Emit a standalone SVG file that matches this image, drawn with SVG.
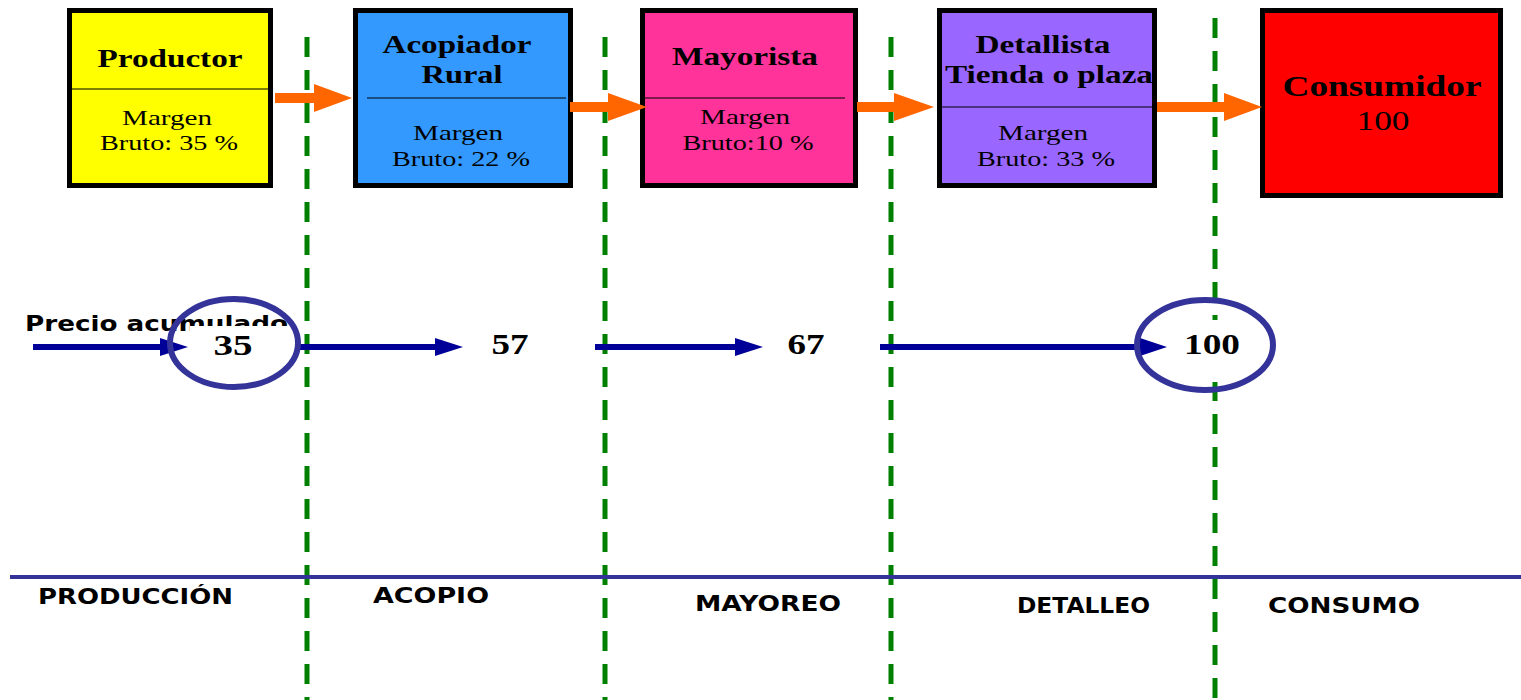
<svg xmlns="http://www.w3.org/2000/svg" width="1521" height="700" viewBox="0 0 1521 700">
  <style>
    .box { stroke: #000; stroke-width: 5; }
    .div { stroke: #000; stroke-width: 1.2; }
    .title { font-family: "Liberation Serif", "Times New Roman", serif; font-weight: bold; font-size: 25px; text-anchor: middle; fill: #000; }
    .body { font-family: "Liberation Serif", "Times New Roman", serif; font-size: 21px; text-anchor: middle; fill: #000; }
    .num { font-family: "Liberation Serif", "Times New Roman", serif; font-weight: bold; font-size: 29px; text-anchor: middle; fill: #000; }
    .stage { font-family: "DejaVu Sans", "Liberation Sans", sans-serif; font-weight: bold; font-size: 22px; fill: #000; }
    .sep { stroke: #008000; stroke-width: 5; stroke-dasharray: 20 13; fill: none; }
    .flow { stroke: #FF6600; stroke-width: 10; fill: none; }
    .price { stroke: #000099; stroke-width: 6; fill: none; }
    .ring { stroke: #333399; stroke-width: 6; fill: none; }
  </style>

  <!-- stage separators -->
  <g id="separators">
    <line class="sep" x1="307" y1="37" x2="307" y2="700"/>
    <line class="sep" x1="605" y1="37" x2="605" y2="700"/>
    <line class="sep" x1="891" y1="37" x2="891" y2="700"/>
    <line class="sep" x1="1215" y1="18" x2="1215" y2="700"/>
  </g>

  <!-- chain actors -->
  <g id="productor">
    <rect class="box" x="69.5" y="10.5" width="201" height="175" fill="#FFFF00"/>
    <line class="div" x1="72" y1="89" x2="268" y2="89"/>
    <text class="title" x="170" y="67" textLength="145" lengthAdjust="spacingAndGlyphs">Productor</text>
    <text class="body" x="167" y="125" textLength="90" lengthAdjust="spacingAndGlyphs">Margen</text>
    <text class="body" x="169" y="150" textLength="138" lengthAdjust="spacingAndGlyphs">Bruto: 35 %</text>
  </g>

  <g id="acopiador">
    <rect class="box" x="355.5" y="10.5" width="215" height="175" fill="#3399FF"/>
    <line class="div" x1="367" y1="98" x2="566" y2="98"/>
    <text class="title" x="457" y="53" textLength="149" lengthAdjust="spacingAndGlyphs">Acopiador</text>
    <text class="title" x="462" y="83" textLength="81" lengthAdjust="spacingAndGlyphs">Rural</text>
    <text class="body" x="458" y="140" textLength="90" lengthAdjust="spacingAndGlyphs">Margen</text>
    <text class="body" x="461" y="166" textLength="138" lengthAdjust="spacingAndGlyphs">Bruto: 22 %</text>
  </g>

  <g id="mayorista">
    <rect class="box" x="642.5" y="10.5" width="213" height="175" fill="#FF3399"/>
    <line class="div" x1="645" y1="98" x2="845" y2="98"/>
    <text class="title" x="745" y="65" textLength="146" lengthAdjust="spacingAndGlyphs">Mayorista</text>
    <text class="body" x="745" y="124" textLength="90" lengthAdjust="spacingAndGlyphs">Margen</text>
    <text class="body" x="748" y="150" textLength="131" lengthAdjust="spacingAndGlyphs">Bruto:10 %</text>
  </g>

  <g id="detallista">
    <rect class="box" x="939.5" y="10.5" width="215" height="175" fill="#9966FF"/>
    <line class="div" x1="942" y1="107" x2="1152" y2="107"/>
    <text class="title" x="1043" y="53" textLength="135" lengthAdjust="spacingAndGlyphs">Detallista</text>
    <text class="title" x="1049" y="83" textLength="208" lengthAdjust="spacingAndGlyphs">Tienda o plaza</text>
    <text class="body" x="1043" y="140" textLength="90" lengthAdjust="spacingAndGlyphs">Margen</text>
    <text class="body" x="1046" y="166" textLength="138" lengthAdjust="spacingAndGlyphs">Bruto: 33 %</text>
  </g>

  <g id="consumidor">
    <rect class="box" x="1262.5" y="10.5" width="238" height="185" fill="#FF0000"/>
    <text class="title" x="1382" y="96" style="font-size:29px" textLength="199" lengthAdjust="spacingAndGlyphs">Consumidor</text>
    <text class="body" x="1383" y="130" style="font-size:27px" textLength="53" lengthAdjust="spacingAndGlyphs">100</text>
  </g>

  <!-- product flow between actors -->
  <g id="connectors">
    <line class="flow" x1="275" y1="98" x2="318" y2="98"/>
    <polygon points="314,84 352,98 314,112" fill="#FF6600"/>
    <line class="flow" x1="570" y1="107" x2="612" y2="107"/>
    <polygon points="608,93 647,107 608,121" fill="#FF6600"/>
    <line class="flow" x1="857" y1="107" x2="898" y2="107"/>
    <polygon points="894,93 934,107 894,121" fill="#FF6600"/>
    <line class="flow" x1="1157" y1="107" x2="1228" y2="107"/>
    <polygon points="1224,93 1262,107 1224,121" fill="#FF6600"/>
  </g>

  <!-- accumulated price row -->
  <g id="precio">
    <text class="stage" x="25" y="331" textLength="263" lengthAdjust="spacingAndGlyphs">Precio acumulado</text>
    <rect x="190" y="326" width="98" height="48" fill="#FFFFFF"/>
    <text class="num" x="233" y="355" textLength="39" lengthAdjust="spacingAndGlyphs">35</text>
    <rect x="1160" y="320" width="100" height="62" fill="#FFFFFF"/>
    <text class="num" x="1212" y="354" textLength="56" lengthAdjust="spacingAndGlyphs">100</text>
    <text class="num" x="510" y="354" textLength="37" lengthAdjust="spacingAndGlyphs">57</text>
    <text class="num" x="806" y="354" textLength="37" lengthAdjust="spacingAndGlyphs">67</text>
  </g>

  <g id="price-arrows">
    <line class="price" x1="33" y1="347" x2="165" y2="347"/>
    <polygon points="160,338 188,347 160,356" fill="#000099"/>
    <line class="price" x1="297" y1="347" x2="440" y2="347"/>
    <polygon points="435,338 463,347 435,356" fill="#000099"/>
    <line class="price" x1="595" y1="347" x2="740" y2="347"/>
    <polygon points="735,338 763,347 735,356" fill="#000099"/>
    <line class="price" x1="880" y1="347" x2="1145" y2="347"/>
    <polygon points="1140,338 1167,347 1140,356" fill="#000099"/>
  </g>

  <g id="rings">
    <ellipse class="ring" cx="234" cy="343" rx="64" ry="44"/>
    <ellipse class="ring" cx="1205" cy="345" rx="68" ry="45"/>
  </g>

  <!-- stage axis -->
  <g id="stages">
    <line x1="10" y1="577" x2="1521" y2="577" stroke="#333399" stroke-width="4"/>
    <text class="stage" x="38" y="604" textLength="195" lengthAdjust="spacingAndGlyphs">PRODUCCIÓN</text>
    <text class="stage" x="373" y="603" textLength="116" lengthAdjust="spacingAndGlyphs">ACOPIO</text>
    <text class="stage" x="695" y="611" textLength="146" lengthAdjust="spacingAndGlyphs">MAYOREO</text>
    <text class="stage" x="1017" y="613" textLength="133" lengthAdjust="spacingAndGlyphs">DETALLEO</text>
    <text class="stage" x="1268" y="613" textLength="152" lengthAdjust="spacingAndGlyphs">CONSUMO</text>
  </g>
</svg>
